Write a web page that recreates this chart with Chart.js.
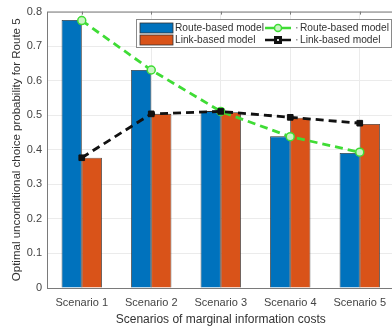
<!DOCTYPE html>
<html>
<head>
<meta charset="utf-8">
<script src="https://cdn.jsdelivr.net/npm/chart.js@4"></script>
<style>
  html, body { margin: 0; padding: 0; background: #fff; overflow: hidden; }
  #wrap { width: 400px; height: 327px; }
</style>
</head>
<body>
<div id="wrap"><canvas id="c" width="400" height="327"></canvas></div>
<script>
const scenarios = ['Scenario 1', 'Scenario 2', 'Scenario 3', 'Scenario 4', 'Scenario 5'];
const routeBars = [0.776, 0.631, 0.512, 0.439, 0.391];
const linkBars = [0.377, 0.504, 0.509, 0.493, 0.475];
const routeLine = [0.774, 0.631, 0.511, 0.438, 0.393];
const linkLine = [0.377, 0.504, 0.511, 0.494, 0.477];
const yTicks = [0, 0.1, 0.2, 0.3, 0.4, 0.5, 0.6, 0.7, 0.8];

const BLUE = '#0072BD', ORANGE = '#D95319', GREEN = '#3fdc35';
const FONT = 'Liberation Sans, Arial, sans-serif';

// box + legend drawn like matlab
const frame = {
    id: 'frame',
    afterDatasetsDraw(chart) {
        const { ctx, chartArea: a } = chart;
        ctx.save();
        ctx.strokeStyle = '#7a7a7a';
        ctx.lineWidth = 1;
        ctx.strokeRect(a.left + 0.5, a.top + 0.5, a.right - a.left - 1, a.bottom - a.top);
        // little tick marks on top edge
        chart.scales.x.ticks.forEach((t, i) => {
            const x = Math.round(chart.scales.x.getPixelForTick(i)) + 0.5;
            ctx.beginPath(); ctx.moveTo(x, a.top); ctx.lineTo(x, a.top + 3); ctx.stroke();
        });

        // legend
        const lx = 136, ly = 19, lw = 255, lh = 28;
        ctx.fillStyle = '#fff';
        ctx.fillRect(lx, ly, lw, lh);
        ctx.strokeStyle = '#8a8a8a';
        ctx.strokeRect(lx + 0.5, ly + 0.5, lw, lh);
        const rows = [
            { fill: BLUE, text: 'Route-based model', line: GREEN, marker: 'circle', y: 28 },
            { fill: ORANGE, text: 'Link-based model', line: '#111', marker: 'rect', y: 40 }
        ];
        ctx.font = '10.2px ' + FONT;
        ctx.textBaseline = 'middle';
        rows.forEach(r => {
            ctx.fillStyle = r.fill;
            ctx.fillRect(140, r.y - 5, 33, 10);
            ctx.strokeStyle = '#333';
            ctx.lineWidth = 0.8;
            ctx.strokeRect(140, r.y - 5, 33, 10);
            ctx.fillStyle = '#333';
            ctx.fillText(r.text, 175, r.y);
            ctx.fillText(r.text, 300, r.y);
            ctx.fillStyle = '#999';
            ctx.fillRect(296, r.y - 1, 1.5, 1.5);
            ctx.strokeStyle = r.line;
            ctx.lineWidth = 2.5;
            ctx.beginPath(); ctx.moveTo(265, r.y); ctx.lineTo(291, r.y); ctx.stroke();
            ctx.lineWidth = 1.5;
            if (r.marker === 'circle') {
                ctx.fillStyle = '#c9f5c3';
                ctx.beginPath(); ctx.arc(278, r.y, 3.5, 0, Math.PI * 2); ctx.fill(); ctx.stroke();
            } else {
                ctx.fillStyle = '#111';
                ctx.fillRect(274, r.y - 4, 8, 8);
                ctx.fillStyle = '#ddd';
                ctx.fillRect(277, r.y - 1, 2, 2);
            }
        });
        ctx.restore();
    }
};

new Chart(document.getElementById('c'), {
    type: 'bar',
    data: {
        labels: scenarios,
        datasets: [
            { label: 'Route-based model', data: routeBars, backgroundColor: BLUE, borderColor: '#2b2b2b', borderWidth: 0.8, order: 2 },
            { label: 'Link-based model', data: linkBars, backgroundColor: ORANGE, borderColor: '#2b2b2b', borderWidth: 0.8, order: 2 },
            { type: 'line', label: 'Route-based model', data: routeLine, borderColor: GREEN, borderWidth: 2.8, borderDash: [8, 5],
              pointStyle: 'circle', pointRadius: 4, pointBackgroundColor: '#c9f5c3', pointBorderColor: GREEN, pointBorderWidth: 1.5, order: 1 },
            { type: 'line', label: 'Link-based model', data: linkLine, borderColor: '#111', borderWidth: 2.8, borderDash: [8, 5],
              pointStyle: 'rect', pointRadius: 4, pointBackgroundColor: '#111', pointBorderColor: '#111', pointBorderWidth: 1, order: 0 }
        ]
    },
    options: {
        responsive: false,
        animation: false,
        layout: { padding: { top: 10, right: 2, left: 0, bottom: 0 } },
        categoryPercentage: 0.58,
        barPercentage: 1.0,
        plugins: { legend: { display: false }, tooltip: { enabled: false } },
        scales: {
            x: {
                grid: { offset: false, color: '#ebebeb', tickLength: 0 },
                border: { display: false },
                ticks: { color: '#444', font: { family: FONT, size: 11 }, padding: 8, maxRotation: 0 },
                title: { display: true, text: 'Scenarios of marginal information costs', color: '#333',
                         font: { family: FONT, size: 12 }, padding: { top: 0, bottom: 0 } },
                afterFit(s) { s.height = 39; }
            },
            y: {
                min: 0, max: 0.8,
                afterBuildTicks(s) { s.ticks = yTicks.map(v => ({ value: v })); },
                grid: { color: '#ebebeb', tickLength: 0 },
                border: { display: false },
                ticks: { color: '#444', font: { family: FONT, size: 11 }, padding: 5,
                         callback: v => String(Number(v.toFixed(1))) },
                title: { display: true, text: 'Optimal unconditional choice probability for Route 5', color: '#333',
                         font: { family: FONT, size: 11.5 }, padding: { top: 10, bottom: 0 } },
                afterFit(s) { s.width = 47; }
            }
        }
    },
    plugins: [frame]
});
</script>
</body>
</html>
